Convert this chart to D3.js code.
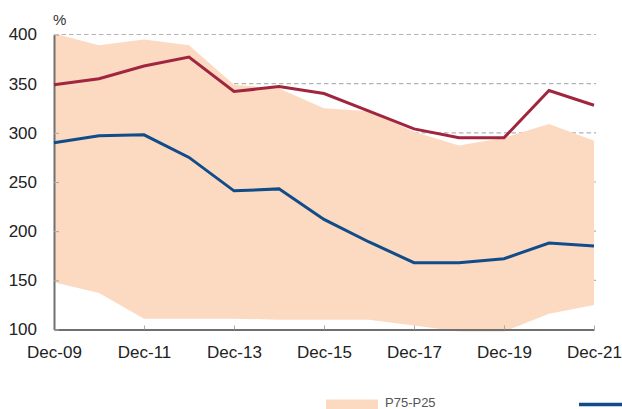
<!DOCTYPE html>
<html>
<head>
<meta charset="utf-8">
<script src="https://cdn.jsdelivr.net/npm/d3@7"></script>
<style>
  body { margin: 0; background: #fff; overflow: hidden; }
  svg { display: block; font-family: "Liberation Sans", Arial, sans-serif; }
</style>
</head>
<body>
<svg id="chart" width="622" height="409"></svg>
<script>
let WIDTH = 622;
let HEIGHT = 409;

// year-end labels, one point per year
let periods = ['Dec-09', 'Dec-10', 'Dec-11', 'Dec-12', 'Dec-13', 'Dec-14', 'Dec-15',
               'Dec-16', 'Dec-17', 'Dec-18', 'Dec-19', 'Dec-20', 'Dec-21'];
let xTicks = ['Dec-09', 'Dec-11', 'Dec-13', 'Dec-15', 'Dec-17', 'Dec-19', 'Dec-21'];
let yTicks = [100, 150, 200, 250, 300, 350, 400];

// P75 / P25 band
let p75 = [401, 389, 395, 389, 349, 345, 325, 322, 301, 287, 295, 309, 292];
let p25 = [148, 137, 111, 111, 111, 110, 110, 110, 104, 98, 98, 116, 125];
// the two lines
let redSeries = [349, 355, 368, 377, 342, 347, 340, 322, 304, 295, 295, 343, 328];
let blueSeries = [290, 297, 298, 275, 241, 243, 212, 189, 168, 168, 172, 188, 185];

let svg = d3.select('#chart');

let xScale = d3.scalePoint().domain(periods).range([54, 594]);
let yScale = d3.scaleLinear().domain([100, 400]).range([329.5, 34.5]);

// dashed grid, sits under the band
svg.append('g')
  .selectAll('line')
  .data(yTicks.filter(d => d > 100))
  .enter().append('line')
    .attr('x1', 54)
    .attr('x2', 596)
    .attr('y1', d => yScale(d))
    .attr('y2', d => yScale(d))
    .attr('stroke', '#b3b3b3')
    .attr('stroke-width', 1.2)
    .attr('stroke-dasharray', '4.5,3');

let band = periods.map((p, i) => ({ p: p, hi: p75[i], lo: p25[i] }));
let area = d3.area()
  .x(d => xScale(d.p))
  .y0(d => yScale(d.lo))
  .y1(d => yScale(d.hi));

svg.append('path')
  .datum(band)
  .attr('d', area)
  .attr('fill', '#fcd9c1');

// axes
let bottomAxis = d3.axisBottom(xScale)
  .tickValues(xTicks)
  .tickSizeInner(-4)
  .tickSizeOuter(0)
  .tickPadding(0);
let xg = svg.append('g')
  .attr('transform', 'translate(0,' + 329.5 + ')')
  .call(bottomAxis);
xg.select('.domain').attr('stroke', '#707070').attr('stroke-width', 2);
xg.selectAll('.tick line').attr('stroke', '#a8a8a8').attr('stroke-width', 1);
xg.selectAll('.tick text')
  .attr('y', 28.5)
  .attr('dy', 0)
  .attr('fill', '#222')
  .style('font-size', '17px')
  .style('font-family', '"Liberation Sans", Arial, sans-serif');

let leftAxis = d3.axisLeft(yScale)
  .tickValues(yTicks)
  .tickSizeInner(-5)
  .tickSizeOuter(0)
  .tickPadding(17);
let yg = svg.append('g')
  .attr('transform', 'translate(54,0)')
  .call(leftAxis);
yg.select('.domain').attr('stroke', '#707070').attr('stroke-width', 2);
yg.selectAll('.tick line').attr('stroke', '#a8a8a8').attr('stroke-width', 1);
yg.selectAll('.tick text')
  .attr('fill', '#222')
  .style('font-size', '17px')
  .style('font-family', '"Liberation Sans", Arial, sans-serif');

svg.append('text')
  .attr('x', 53)
  .attr('y', 25)
  .attr('fill', '#333')
  .style('font-size', '15px')
  .text('%');

// lines
let line = d3.line()
  .x((d, i) => xScale(periods[i]))
  .y(d => yScale(d));

svg.append('path')
  .datum(redSeries)
  .attr('d', line)
  .attr('fill', 'none')
  .attr('stroke', '#a0263f')
  .attr('stroke-width', 3)
  .attr('stroke-linejoin', 'miter');

svg.append('path')
  .datum(blueSeries)
  .attr('d', line)
  .attr('fill', 'none')
  .attr('stroke', '#0f4c89')
  .attr('stroke-width', 3)
  .attr('stroke-linejoin', 'miter');

// legend (runs into the bottom edge)
let legend = svg.append('g');
legend.append('rect')
  .attr('x', 326)
  .attr('y', 399.5)
  .attr('width', 52)
  .attr('height', 12)
  .attr('fill', '#fcd9c1');
legend.append('text')
  .attr('x', 385)
  .attr('y', 407)
  .attr('fill', '#555')
  .style('font-size', '13px')
  .text('P75-P25');
legend.append('line')
  .attr('x1', 579)
  .attr('x2', 630)
  .attr('y1', 404.5)
  .attr('y2', 404.5)
  .attr('stroke', '#0f4c89')
  .attr('stroke-width', 3.5);
</script>
</body>
</html>
